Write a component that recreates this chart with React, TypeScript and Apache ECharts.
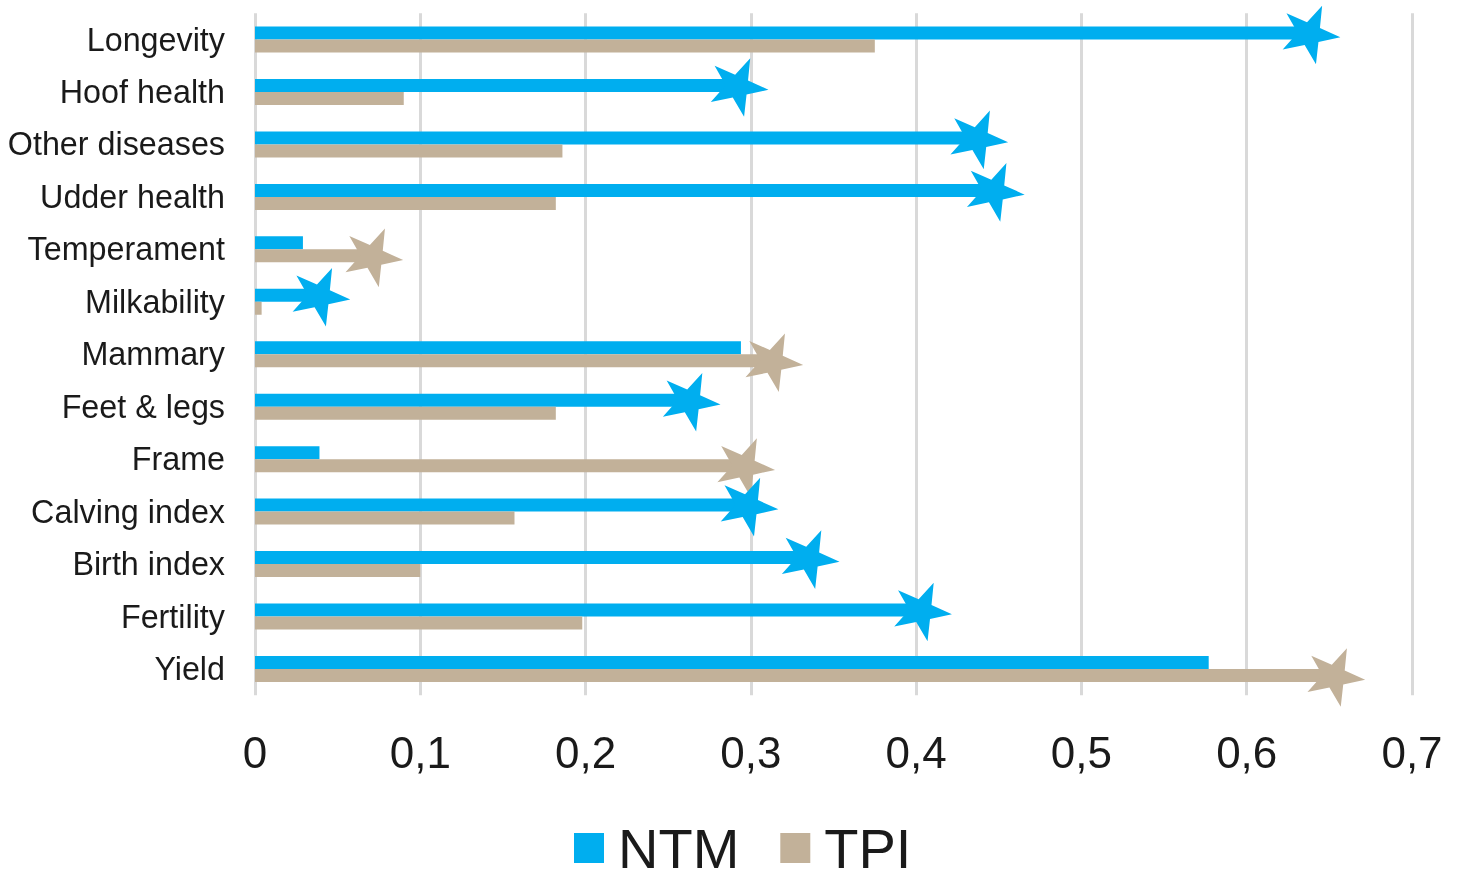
import React, { useEffect, useRef } from "react";
import * as echarts from "echarts";

const categories = [
  "Longevity",
  "Hoof health",
  "Other diseases",
  "Udder health",
  "Temperament",
  "Milkability",
  "Mammary",
  "Feet & legs",
  "Frame",
  "Calving index",
  "Birth index",
  "Fertility",
  "Yield",
];
const ntmValues = [0.638, 0.292, 0.437, 0.447, 0.029, 0.039, 0.294, 0.263, 0.039, 0.298, 0.335, 0.403, 0.577];
const tpiValues = [0.375, 0.09, 0.186, 0.182, 0.071, 0.004, 0.313, 0.182, 0.296, 0.157, 0.1, 0.198, 0.653];
const xTicks = [0, 0.1, 0.2, 0.3, 0.4, 0.5, 0.6, 0.7];

const BLUE = "#00AEEF";
const TAN = "#C2B199";
const TEXT = "#1a1a1a";
const FONT = "'Liberation Sans', Arial, Helvetica, sans-serif";
const BAR_W = 13;

export default function App() {
  const ref = useRef<HTMLDivElement>(null);
  useEffect(() => {
    document.body.style.margin = "0";
    const chart = echarts.init(ref.current!, null, { renderer: "svg" });
    const stars = categories.map((_, i) =>
      ntmValues[i] >= tpiValues[i] ? [ntmValues[i], i, 0] : [tpiValues[i], i, 1]
    );
    const colors = [BLUE, TAN];
    const R = 31;
    const r = 12;
    const baseAngle = -6;
    chart.setOption({
      animation: false,
      textStyle: { fontFamily: FONT },
      grid: { left: 255, right: 45, top: 13.3, bottom: 174.8, containLabel: false },
      legend: {
        data: ["NTM", "TPI"],
        left: 574,
        top: 820,
        padding: 0,
        icon: "rect",
        itemWidth: 30,
        itemHeight: 30,
        itemGap: 41,
        textStyle: { fontSize: 56, color: TEXT, fontFamily: FONT, padding: [0, 0, 0, 9], lineHeight: 54 },
      },
      xAxis: {
        type: "value",
        min: xTicks[0],
        max: xTicks[xTicks.length - 1],
        interval: 0.1,
        axisLine: { show: false },
        axisTick: { show: false },
        splitLine: { show: true, lineStyle: { color: "#D9D9D9", width: 3 } },
        axisLabel: {
          fontSize: 44,
          color: TEXT,
          margin: 35,
          fontFamily: FONT,
          formatter: (v: number) => String(Math.round(v * 10) / 10).replace(".", ","),
        },
      },
      yAxis: {
        type: "category",
        inverse: true,
        data: categories,
        axisLine: { show: false },
        axisTick: { show: false },
        splitLine: { show: false },
        axisLabel: { fontSize: 32.3, color: TEXT, margin: 30, fontFamily: FONT, padding: [8, 0, 0, 0] },
      },
      series: [
        {
          name: "NTM",
          type: "bar",
          data: ntmValues,
          barWidth: BAR_W,
          barGap: "0%",
          itemStyle: { color: BLUE },
        },
        {
          name: "TPI",
          type: "bar",
          data: tpiValues,
          barWidth: BAR_W,
          barGap: "0%",
          itemStyle: { color: TAN },
        },
        {
          name: "stars",
          type: "custom",
          data: stars,
          encode: { x: 0, y: 1 },
          z: 3,
          renderItem: (params: any, api: any) => {
            const v = api.value(0);
            const c = api.value(1);
            const s = api.value(2);
            const p = api.coord([v, c]);
            const cx = p[0];
            const cy = p[1] + (s === 0 ? -BAR_W / 2 : BAR_W / 2) + 1;
            const pts: number[][] = [];
            for (let k = 0; k < 10; k++) {
              const ang = ((baseAngle + k * 36) * Math.PI) / 180;
              const rad = k % 2 === 0 ? R : r;
              pts.push([cx + rad * Math.cos(ang), cy - rad * Math.sin(ang)]);
            }
            return { type: "polygon", shape: { points: pts }, style: { fill: colors[s] } };
          },
        },
      ],
    });
    return () => chart.dispose();
  }, []);
  return (
    <div
      ref={ref}
      style={{ position: "fixed", left: 0, top: 0, width: 1457, height: 870 }}
    />
  );
}
